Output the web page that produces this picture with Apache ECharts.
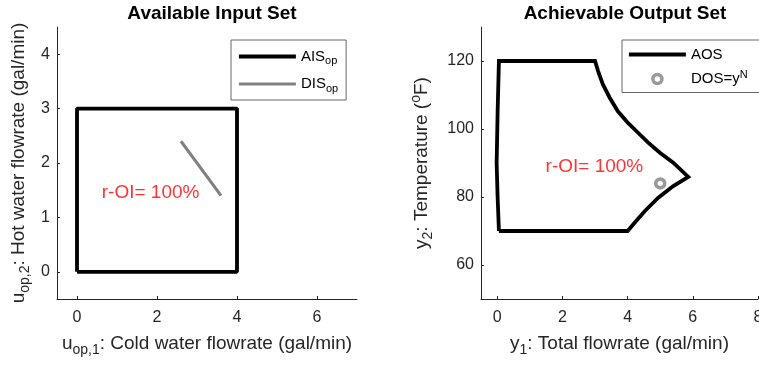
<!DOCTYPE html>
<html>
<head>
<meta charset="utf-8">
<script src="https://cdn.jsdelivr.net/npm/echarts@6/dist/echarts.min.js"></script>
<style>
html,body{margin:0;padding:0;background:#fff;}
#chart{width:759px;height:366px;}
</style>
</head>
<body>
<div id="chart"></div>
<script>
// ---- data ----
const aisX = [0, 4, 4, 0, 0];
const aisY = [0, 0, 3, 3, 0];
const disX = [2.6, 3.6];
const disY = [2.4, 1.4];
// AOS boundary
const aosX = [0.05, 4.0, 4.22, 4.53, 4.94, 5.40, 5.86, 5.40, 4.99, 4.63, 4.32, 4.01, 3.70, 3.45, 3.24, 3.09, 3.0, 0.05, 0.01, -0.02, 0.01, 0.05];
const aosY = [70, 70, 72.5, 75.9, 79.8, 83.2, 85.9, 90.1, 93.0, 96.0, 98.9, 101.8, 105.2, 109.2, 113.1, 117.1, 120, 120, 105, 90, 80, 70];
const dosX = [5];
const dosY = [84];
const leftXTicks = [0, 2, 4, 6];
const leftYTicks = [0, 1, 2, 3, 4];
const rightXTicks = [0, 2, 4, 6, 8];
const rightYTicks = [60, 80, 100, 120];
const annotText = 'r-OI= 100%';
const annotLeft = [1.84, 1.46];
const annotRight = [2.98, 88.8];

const pairs = (xs, ys) => xs.map((x, i) => [x, ys[i]]);
const AX = '#262626';
const FF = 'Liberation Sans';
const richStyles = {
  n: {fontSize: 19, lineHeight: 26, color: AX, fontFamily: FF},
  s: {fontSize: 14, lineHeight: 14, verticalAlign: 'bottom', color: AX, fontFamily: FF},
  p: {fontSize: 14, lineHeight: 14, verticalAlign: 'top', color: AX, fontFamily: FF}
};
const legRich = {
  n: {fontSize: 15, lineHeight: 20, color: '#000', fontFamily: FF},
  s: {fontSize: 11, lineHeight: 11, verticalAlign: 'bottom', color: '#000', fontFamily: FF},
  p: {fontSize: 11, lineHeight: 11, verticalAlign: 'top', color: '#000', fontFamily: FF}
};
const legNames = {
  'AIS_op': '{n|AIS}{s|op}',
  'DIS_op': '{n|DIS}{s|op}',
  'AOS': '{n|AOS}',
  'DOS=y^N': '{n|DOS=y}{p|N}'
};

function axisCommon(min, max, ticks, name, gap, isY) {
  return {
    type: 'value', min: min, max: max,
    name: name, nameLocation: 'middle', nameGap: gap,
    nameTextStyle: {rich: richStyles, color: AX, fontFamily: FF, fontSize: 19},
    axisLine: {show: true, onZero: false, lineStyle: {color: AX, width: 1}},
    axisTick: {show: true, inside: true, length: 3, lineStyle: {color: AX}, customValues: ticks},
    axisLabel: {show: true, color: AX, fontSize: 16, fontFamily: FF, margin: isY ? 7 : 11, customValues: ticks,
                showMinLabel: true, showMaxLabel: true, hideOverlap: false},
    splitLine: {show: false}
  };
}

const chart = echarts.init(document.getElementById('chart'), null, {renderer: 'canvas'});
chart.setOption({
  animation: false,
  backgroundColor: '#fff',
  title: [
    {text: 'Available Input Set', left: 207, top: -1, textAlign: 'center',
     textStyle: {fontSize: 19, fontWeight: 'bold', color: '#000', fontFamily: FF}},
    {text: 'Achievable Output Set', left: 620, top: -1, textAlign: 'center',
     textStyle: {fontSize: 19, fontWeight: 'bold', color: '#000', fontFamily: FF}}
  ],
  grid: [
    {left: 57, top: 27, width: 300, height: 272, outerBoundsMode: 'none', containLabel: false},
    {left: 481, top: 27, width: 277, height: 272, outerBoundsMode: 'none', containLabel: false}
  ],
  xAxis: [
    Object.assign(axisCommon(-0.5, 7, leftXTicks, '{n|u}{s|op,1}{n|: Cold water flowrate (gal/min)}', 32, false), {gridIndex: 0}),
    Object.assign(axisCommon(-0.5, 8, rightXTicks, '{n|y}{s|1}{n|: Total flowrate (gal/min)}', 32, false), {gridIndex: 1})
  ],
  yAxis: [
    Object.assign(axisCommon(-0.5, 4.5, leftYTicks, '{n|u}{s|op,2}{n|: Hot water flowrate (gal/min)}', 25, true), {gridIndex: 0}),
    Object.assign(axisCommon(50, 130, rightYTicks, '{n|y}{s|2}{n|: Temperature (}{p|o}{n|F)}', 46, true), {gridIndex: 1})
  ],
  legend: [
    {data: [
       {name: 'AIS_op', itemStyle: {opacity: 0}, lineStyle: {width: 3.8, color: '#000'}},
       {name: 'DIS_op', itemStyle: {opacity: 0}, lineStyle: {width: 3, color: '#808080'}}
     ],
     orient: 'vertical', left: 231, top: 40,
     itemWidth: 57, itemHeight: 14, itemGap: 10, padding: [9, 8, 6, 6],
     borderColor: '#666', borderWidth: 1, backgroundColor: '#fff',
     formatter: n => legNames[n], textStyle: {fontSize: 15, fontFamily: FF, rich: legRich}},
    {data: [
       {name: 'AOS', itemStyle: {opacity: 0}, lineStyle: {width: 3.8, color: '#000'}},
       {name: 'DOS=y^N', itemStyle: {color: '#fff', borderColor: '#808080', borderWidth: 3.5}}
     ],
     orient: 'vertical', left: 622, top: 40,
     itemWidth: 57, itemHeight: 9, itemGap: 7, padding: [7, 14, 6, 5],
     borderColor: '#666', borderWidth: 1, backgroundColor: '#fff',
     formatter: n => legNames[n], textStyle: {fontSize: 15, fontFamily: FF, rich: legRich}}
  ],
  series: [
    {name: 'AIS_op', type: 'line', xAxisIndex: 0, yAxisIndex: 0, data: pairs(aisX, aisY),
     symbol: 'none', lineStyle: {color: '#000', width: 3.8}, itemStyle: {color: '#000'}},
    {name: 'DIS_op', type: 'line', xAxisIndex: 0, yAxisIndex: 0, data: pairs(disX, disY),
     symbol: 'none', lineStyle: {color: '#808080', width: 3}, itemStyle: {color: '#808080'}},
    {name: 'AOS', type: 'line', xAxisIndex: 1, yAxisIndex: 1, data: pairs(aosX, aosY),
     symbol: 'none', lineStyle: {color: '#000', width: 3.8, join: 'miter'}, itemStyle: {color: '#000'}},
    {name: 'DOS=y^N', type: 'scatter', xAxisIndex: 1, yAxisIndex: 1, data: pairs(dosX, dosY),
     symbol: 'circle', symbolSize: 9, itemStyle: {color: '#fff', borderColor: '#808080', borderWidth: 3.5}},
    {name: 'annotL', type: 'scatter', xAxisIndex: 0, yAxisIndex: 0, data: [annotLeft],
     symbolSize: 0, silent: true,
     label: {show: true, position: 'inside', formatter: annotText, color: '#ff0000', fontSize: 19, fontFamily: FF}},
    {name: 'annotR', type: 'scatter', xAxisIndex: 1, yAxisIndex: 1, data: [annotRight],
     symbolSize: 0, silent: true,
     label: {show: true, position: 'inside', formatter: annotText, color: '#ff0000', fontSize: 19, fontFamily: FF}}
  ]
});
</script>
</body>
</html>
